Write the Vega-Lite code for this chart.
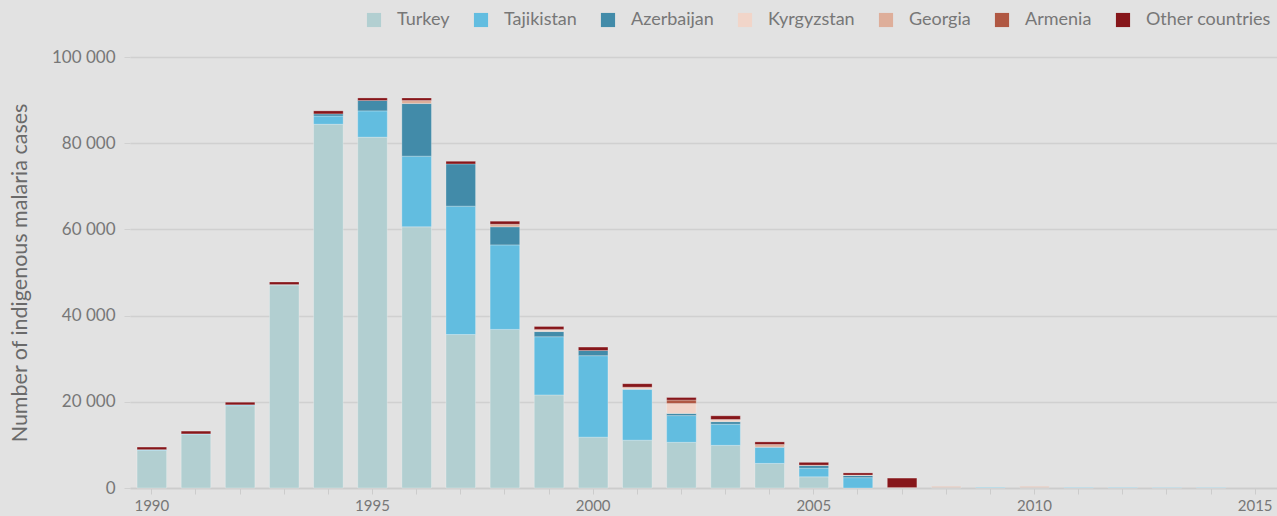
{
  "$schema": "https://vega.github.io/schema/vega-lite/v6.json",
  "width": 1147,
  "height": 431,
  "autosize": {"type": "none"},
  "padding": {"left": 130, "top": 57, "right": 0, "bottom": 28},
  "background": "#e2e2e2",
  "config": {
    "locale": {"number": {"decimal": ".", "thousands": " ", "grouping": [3], "currency": ["", ""]}},
    "view": {"stroke": null},
    "font": "Lato",
    "axis": {"labelColor": "#777777", "titleColor": "#6a6a6a", "labelFont": "Lato", "titleFont": "Lato", "titleFontWeight": "normal"},
    "legend": {"labelFont": "Lato"}
  },
  "data": {
    "values": [
      {"year": 1990, "country": "Turkey", "cases": 8700},
      {"year": 1990, "country": "Tajikistan", "cases": 200},
      {"year": 1990, "country": "Other countries", "cases": 600},
      {"year": 1991, "country": "Turkey", "cases": 12400},
      {"year": 1991, "country": "Tajikistan", "cases": 150},
      {"year": 1991, "country": "Other countries", "cases": 650},
      {"year": 1992, "country": "Turkey", "cases": 19100},
      {"year": 1992, "country": "Tajikistan", "cases": 200},
      {"year": 1992, "country": "Other countries", "cases": 600},
      {"year": 1993, "country": "Turkey", "cases": 47100},
      {"year": 1993, "country": "Tajikistan", "cases": 100},
      {"year": 1993, "country": "Other countries", "cases": 600},
      {"year": 1994, "country": "Turkey", "cases": 84400},
      {"year": 1994, "country": "Tajikistan", "cases": 1900},
      {"year": 1994, "country": "Azerbaijan", "cases": 500},
      {"year": 1994, "country": "Other countries", "cases": 700},
      {"year": 1995, "country": "Turkey", "cases": 81400},
      {"year": 1995, "country": "Tajikistan", "cases": 6100},
      {"year": 1995, "country": "Azerbaijan", "cases": 2400},
      {"year": 1995, "country": "Other countries", "cases": 600},
      {"year": 1996, "country": "Turkey", "cases": 60600},
      {"year": 1996, "country": "Tajikistan", "cases": 16400},
      {"year": 1996, "country": "Azerbaijan", "cases": 12200},
      {"year": 1996, "country": "Georgia", "cases": 700},
      {"year": 1996, "country": "Other countries", "cases": 600},
      {"year": 1997, "country": "Turkey", "cases": 35600},
      {"year": 1997, "country": "Tajikistan", "cases": 29800},
      {"year": 1997, "country": "Azerbaijan", "cases": 9800},
      {"year": 1997, "country": "Other countries", "cases": 600},
      {"year": 1998, "country": "Turkey", "cases": 36800},
      {"year": 1998, "country": "Tajikistan", "cases": 19600},
      {"year": 1998, "country": "Azerbaijan", "cases": 4200},
      {"year": 1998, "country": "Georgia", "cases": 600},
      {"year": 1998, "country": "Other countries", "cases": 700},
      {"year": 1999, "country": "Turkey", "cases": 21600},
      {"year": 1999, "country": "Tajikistan", "cases": 13500},
      {"year": 1999, "country": "Azerbaijan", "cases": 1200},
      {"year": 1999, "country": "Kyrgyzstan", "cases": 300},
      {"year": 1999, "country": "Georgia", "cases": 200},
      {"year": 1999, "country": "Other countries", "cases": 700},
      {"year": 2000, "country": "Turkey", "cases": 11800},
      {"year": 2000, "country": "Tajikistan", "cases": 18900},
      {"year": 2000, "country": "Azerbaijan", "cases": 1200},
      {"year": 2000, "country": "Other countries", "cases": 800},
      {"year": 2001, "country": "Turkey", "cases": 11100},
      {"year": 2001, "country": "Tajikistan", "cases": 11800},
      {"year": 2001, "country": "Kyrgyzstan", "cases": 500},
      {"year": 2001, "country": "Other countries", "cases": 800},
      {"year": 2002, "country": "Turkey", "cases": 10600},
      {"year": 2002, "country": "Tajikistan", "cases": 6200},
      {"year": 2002, "country": "Azerbaijan", "cases": 500},
      {"year": 2002, "country": "Kyrgyzstan", "cases": 2300},
      {"year": 2002, "country": "Armenia", "cases": 800},
      {"year": 2002, "country": "Other countries", "cases": 600},
      {"year": 2003, "country": "Turkey", "cases": 9900},
      {"year": 2003, "country": "Tajikistan", "cases": 4900},
      {"year": 2003, "country": "Azerbaijan", "cases": 600},
      {"year": 2003, "country": "Kyrgyzstan", "cases": 500},
      {"year": 2003, "country": "Other countries", "cases": 850},
      {"year": 2004, "country": "Turkey", "cases": 5700},
      {"year": 2004, "country": "Tajikistan", "cases": 3700},
      {"year": 2004, "country": "Azerbaijan", "cases": 100},
      {"year": 2004, "country": "Georgia", "cases": 600},
      {"year": 2004, "country": "Other countries", "cases": 600},
      {"year": 2005, "country": "Turkey", "cases": 2600},
      {"year": 2005, "country": "Tajikistan", "cases": 2000},
      {"year": 2005, "country": "Azerbaijan", "cases": 600},
      {"year": 2005, "country": "Georgia", "cases": 100},
      {"year": 2005, "country": "Other countries", "cases": 650},
      {"year": 2006, "country": "Tajikistan", "cases": 2400},
      {"year": 2006, "country": "Azerbaijan", "cases": 500},
      {"year": 2006, "country": "Kyrgyzstan", "cases": 100},
      {"year": 2006, "country": "Other countries", "cases": 500},
      {"year": 2007, "country": "Georgia", "cases": 100},
      {"year": 2007, "country": "Other countries", "cases": 2200},
      {"year": 2008, "country": "Tajikistan", "cases": 100},
      {"year": 2008, "country": "Georgia", "cases": 250},
      {"year": 2009, "country": "Tajikistan", "cases": 120},
      {"year": 2010, "country": "Tajikistan", "cases": 100},
      {"year": 2010, "country": "Georgia", "cases": 250},
      {"year": 2011, "country": "Tajikistan", "cases": 100},
      {"year": 2012, "country": "Tajikistan", "cases": 100},
      {"year": 2013, "country": "Tajikistan", "cases": 80},
      {"year": 2014, "country": "Tajikistan", "cases": 80}
    ]
  },
  "transform": [
    {"calculate": "indexof(['Turkey','Tajikistan','Azerbaijan','Kyrgyzstan','Georgia','Armenia','Other countries'], datum.country)", "as": "stackOrder"}
  ],
  "mark": {"type": "bar", "stroke": "#ffffff", "strokeOpacity": 0.25, "strokeWidth": 1},
  "encoding": {
    "x": {
      "field": "year",
      "type": "ordinal",
      "scale": {
        "domain": [1990,1991,1992,1993,1994,1995,1996,1997,1998,1999,2000,2001,2002,2003,2004,2005,2006,2007,2008,2009,2010,2011,2012,2013,2014,2015],
        "paddingInner": 0.33,
        "paddingOuter": 0.16
      },
      "axis": {
        "title": null,
        "labelAngle": 0,
        "labelExpr": "datum.value % 5 === 0 ? datum.label : ''",
        "labelFontSize": 15,
        "labelPadding": 4,
        "tickSize": 6,
        "tickColor": "#cccccc",
        "domainColor": "#cccccc",
        "domainWidth": 1.5,
        "grid": false
      }
    },
    "y": {
      "field": "cases",
      "type": "quantitative",
      "stack": "zero",
      "scale": {"domain": [0, 100000]},
      "axis": {
        "title": "Number of indigenous malaria cases",
        "titleFontSize": 21.5,
        "titlePadding": 20,
        "values": [0, 20000, 40000, 60000, 80000, 100000],
        "format": ",d",
        "labelFontSize": 17,
        "labelPadding": 9,
        "tickSize": 6,
        "tickColor": "#d0d0d0",
        "domain": false,
        "gridColor": "#d0d0d0",
        "gridWidth": 1.5
      }
    },
    "color": {
      "field": "country",
      "type": "nominal",
      "sort": ["Turkey", "Tajikistan", "Azerbaijan", "Kyrgyzstan", "Georgia", "Armenia", "Other countries"],
      "scale": {
        "domain": ["Turkey", "Tajikistan", "Azerbaijan", "Kyrgyzstan", "Georgia", "Armenia", "Other countries"],
        "range": ["#b2cfd1", "#62bde0", "#428ba9", "#f1d5c9", "#deae9a", "#b05843", "#86161a"]
      },
      "legend": {
        "title": null,
        "orient": "none",
        "direction": "horizontal",
        "legendX": 235,
        "legendY": -46,
        "symbolType": "square",
        "symbolSize": 200,
        "symbolStrokeWidth": 0,
        "labelFontSize": 18,
        "labelColor": "#777777",
        "labelOffset": 14,
        "columnPadding": 22
      }
    },
    "order": {"field": "stackOrder", "type": "quantitative", "sort": "ascending"}
  }
}
